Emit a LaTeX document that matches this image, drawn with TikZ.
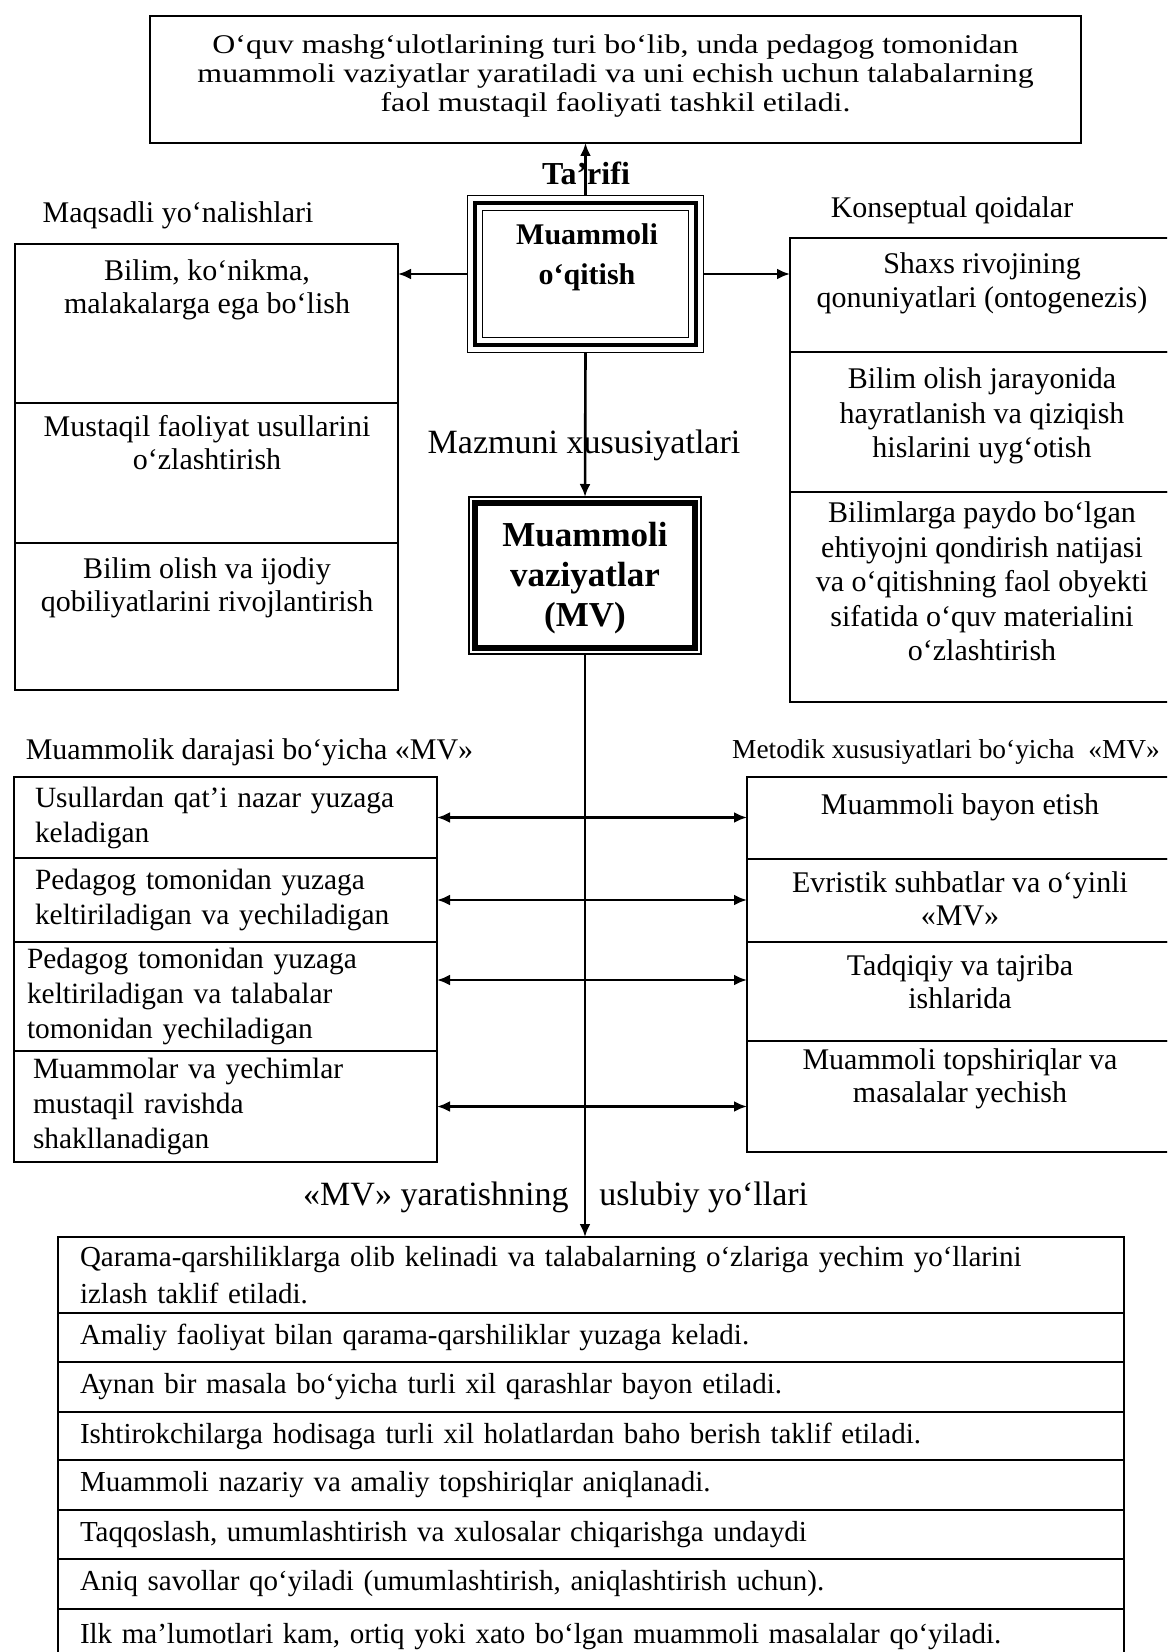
\documentclass[tikz,border=0pt]{standalone}
\usepackage{fontspec}
\setmainfont{Liberation Serif}
\newfontfamily\widefont[FakeStretch=1.18]{Liberation Serif}
\usetikzlibrary{positioning}
\usetikzlibrary{arrows.meta}

\begin{document}
\begin{tikzpicture}[x=0.5pt, y=-0.5pt, >={Latex[length=6.5pt,width=5.5pt]},
    cell/.style={draw, line width=0.8pt, inner sep=0pt, outer sep=0pt},
    txt/.style={align=center, inner sep=0pt, font=\fontsize{15}{16.5}\selectfont},
    row/.style={cell, minimum width=211.5pt, align=left, font=\fontsize{14.7}{17.5}\selectfont},
    brow/.style={cell, minimum width=533pt, text width=511pt, align=left, font=\fontsize{14.5}{18.5}\selectfont},
    lbl/.style={inner sep=0pt, font=\fontsize{17}{20}\selectfont},
    conn/.style={line width=1.3pt}]
\useasboundingbox (0,0) rectangle (1167,1652);
\clip (0,0) rectangle (1167,1652);

\node[cell, minimum width=465.5pt, minimum height=63.5pt] (tarif) at (615.5,79.5) {};
\node[txt, font=\widefont\fontsize{13.5}{14.5}\selectfont] (tariftxt) at (615.5,76)
    {O‘quv mashg‘ulotlarining turi bo‘lib, unda pedagog tomonidan\\
     muammoli vaziyatlar yaratiladi va uni echish uchun talabalarning\\
     faol mustaqil faoliyati tashkil etiladi.};

\node[draw, line width=2pt, inner sep=0pt, outer sep=3.75pt, minimum width=110.75pt, minimum height=71pt] (mq) at (585.5,274) {};
\draw[line width=0.6pt] (mq.north west) rectangle (mq.south east);
\draw[line width=0.6pt] ([shift={(7.5pt,-7.5pt)}]mq.north west) rectangle ([shift={(-7.5pt,7.5pt)}]mq.south east);
\node[txt, font=\bfseries\fontsize{15}{20}\selectfont] (mqtxt) at (587,257) {Muammoli\\o‘qitish};

\node[lbl, font=\bfseries\fontsize{16}{20}\selectfont] (tarlbl) at (586,173) {Ta’rifi};
\draw[conn, ->] (mq.north) -- (mq.north |- tarif.south);

\node[txt] (gh) at (178,215) {Maqsadli yo‘nalishlari};
\node[cell, minimum width=191.5pt, minimum height=79.5pt] (g1) at (206.5,323.5) {};
\node[cell, minimum width=191.5pt, minimum height=70pt] (g2) at (206.5,473) {};
\node[cell, minimum width=191.5pt, minimum height=73.5pt] (g3) at (206.5,616.5) {};
\node[txt] (g1txt) at (207,289.5) {Bilim, ko‘nikma,\\malakalarga ega bo‘lish};
\node[txt] (g2txt) at (207,443) {Mustaqil faoliyat usullarini\\o‘zlashtirish};
\node[txt] (g3txt) at (207,588) {Bilim olish va ijodiy\\qobiliyatlarini rivojlantirish};
\draw[conn, ->] (mq.west) -- (mq.west -| g1.east);

\node[txt] (kh) at (952,210) {Konseptual qoidalar};
\node[cell, minimum width=190pt, minimum height=57pt] (k1) at (980,295) {};
\node[cell, minimum width=190pt, minimum height=70pt] (k2) at (980,422) {};
\node[cell, minimum width=190pt, minimum height=105pt] (k3) at (980,597) {};
\node[txt, font=\fontsize{15}{17.25}\selectfont] (k1txt) at (982,283.5) {Shaxs rivojining\\qonuniyatlari (ontogenezis)};
\node[txt, font=\fontsize{15}{17.25}\selectfont] (k2txt) at (982,416) {Bilim olish jarayonida\\hayratlanish va qiziqish\\hislarini uyg‘otish};
\node[txt, font=\fontsize{15}{17.25}\selectfont] (k3txt) at (982,581.5) {Bilimlarga paydo bo‘lgan\\ehtiyojni qondirish natijasi\\va o‘qitishning faol obyekti\\sifatida o‘quv materialini\\o‘zlashtirish};
\draw[conn, ->] (mq.east) -- (mq.east -| k1.west);

\node[draw, line width=3pt, inner sep=0pt, outer sep=3pt, minimum width=110pt, minimum height=72.5pt] (mv) at (585,575.5) {};
\draw[line width=0.6pt] (mv.north west) rectangle (mv.south east);
\node[txt, font=\bfseries\fontsize{17.5}{20}\selectfont] (mvtxt) at (585,578) {Muammoli\\vaziyatlar\\(MV)};
\node[lbl] (mzm) at (584,445) {Mazmuni xususiyatlari};
\draw[conn, ->] (mq.south) -- (mv.north);

\node[txt] (dh) at (249.5,752) {Muammolik darajasi bo‘yicha «MV»};
\node[row, anchor=north, minimum height=40.5pt, text width=190.5pt] (d1) at (225.5,777) {Usullardan qat’i nazar yuzaga\\keladigan};
\node[row, below=0pt of d1, minimum height=42pt, text width=190.5pt] (d2) {Pedagog tomonidan yuzaga\\keltiriladigan va yechiladigan};
\node[row, below=0pt of d2, minimum height=54.5pt, text width=198.5pt] (d3) {Pedagog tomonidan yuzaga\\keltiriladigan va talabalar\\tomonidan yechiladigan};
\node[row, below=0pt of d3, minimum height=55.5pt, text width=192.5pt] (d4) {Muammolar va yechimlar\\mustaqil ravishda\\shakllanadigan};

\node[txt, font=\fontsize{13.7}{16}\selectfont] (mh) at (946,752) {Metodik xususiyatlari bo‘yicha\ \ «MV»};
\node[cell, anchor=north, minimum width=211.5pt, minimum height=41pt] (m1) at (958.5,777) {};
\node[cell, below=0pt of m1, minimum width=211.5pt, minimum height=41.5pt] (m2) {};
\node[cell, below=0pt of m2, minimum width=211.5pt, minimum height=49.5pt] (m3) {};
\node[cell, below=0pt of m3, minimum width=211.5pt, minimum height=55.5pt] (m4) {};
\node[txt] (m1txt) at (960,807) {Muammoli bayon etish};
\node[txt] (m2txt) at (960,898.5) {Evristik suhbatlar va o‘yinli\\«MV»};
\node[txt] (m3txt) at (960,981.5) {Tadqiqiy va tajriba\\ishlarida};
\node[txt] (m4txt) at (960,1078.5) {Muammoli topshiriqlar va\\masalalar yechish};

\draw[conn, <->] (d1.east) -- (d1.east -| m1.west);
\draw[conn, <->] (d2.east) -- (d2.east -| m2.west);
\draw[conn, <->] ([yshift=8.25pt]d3.east) -- ([yshift=8.25pt]d3.east -| m3.west);
\draw[conn, <->] (d4.east) -- (d4.east -| m4.west);

\node[brow, anchor=north, minimum height=38pt] (b1) at (591,1237) {Qarama-qarshiliklarga olib kelinadi va talabalarning o‘zlariga yechim yo‘llarini\\izlash taklif etiladi.};
\node[brow, below=0pt of b1, minimum height=24.5pt] (b2) {Amaliy faoliyat bilan qarama-qarshiliklar yuzaga keladi.};
\node[brow, below=0pt of b2, minimum height=25pt] (b3) {Aynan bir masala bo‘yicha turli xil qarashlar bayon etiladi.};
\node[brow, below=0pt of b3, minimum height=24pt] (b4) {Ishtirokchilarga hodisaga turli xil holatlardan baho berish taklif etiladi.};
\node[brow, below=0pt of b4, minimum height=25pt] (b5) {Muammoli nazariy va amaliy topshiriqlar aniqlanadi.};
\node[brow, below=0pt of b5, minimum height=24.5pt] (b6) {Taqqoslash, umumlashtirish va xulosalar chiqarishga undaydi};
\node[brow, below=0pt of b6, minimum height=25pt] (b7) {Aniq savollar qo‘yiladi (umumlashtirish, aniqlashtirish uchun).};
\node[brow, below=0pt of b7, minimum height=28pt] (b8) {Ilk ma’lumotlari kam, ortiq yoki xato bo‘lgan muammoli masalalar qo‘yiladi.};

\node[lbl, anchor=east] (yar) at (569,1197) {«MV» yaratishning};
\node[lbl, anchor=west] (usl) at (599,1197) {uslubiy yo‘llari};
\draw[conn, ->] (mv.south) -- (mv.south |- b1.north);
\end{tikzpicture}
\end{document}
